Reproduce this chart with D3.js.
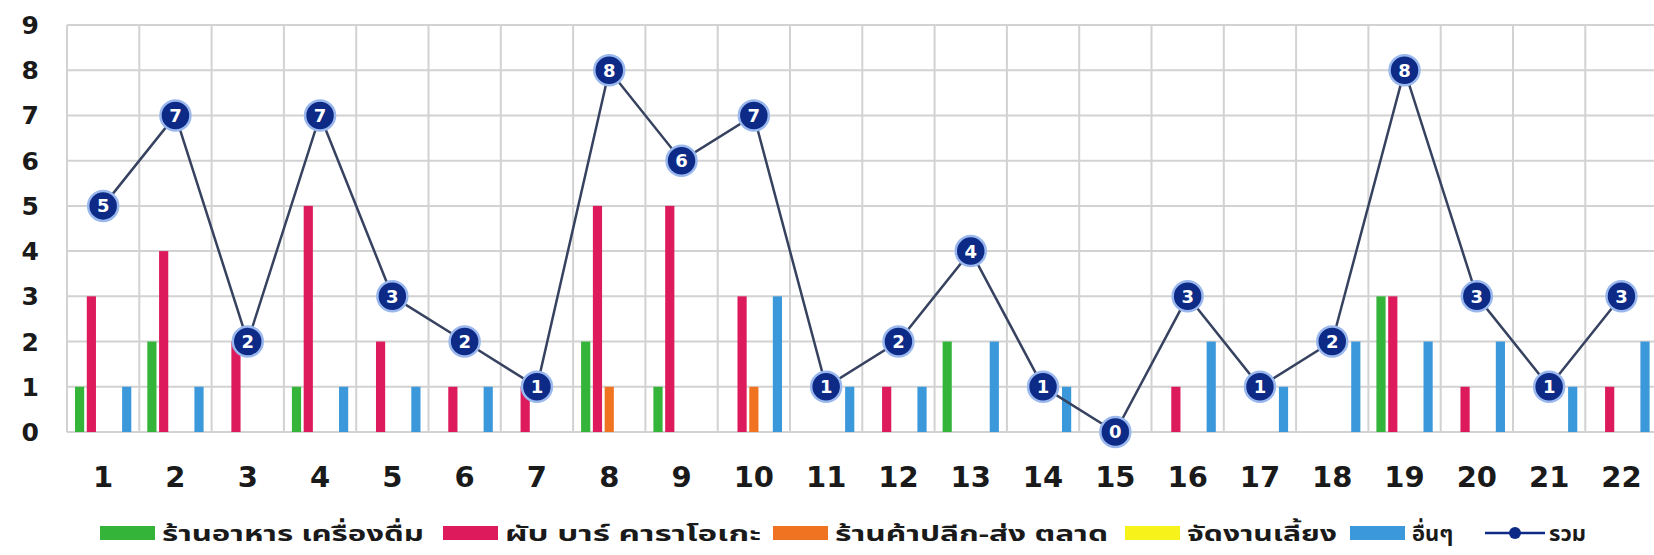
<!DOCTYPE html>
<html>
<head>
<meta charset="utf-8">
<script src="https://cdn.jsdelivr.net/npm/d3@7"></script>
<style>
  html, body { margin: 0; padding: 0; background: #fff; }
  svg { display: block; }
</style>
</head>
<body>
<div id="chart"></div>
<script>
// วันที่ 1-22
const days = d3.range(1, 23).map(String);
const seriesNames = ['ร้านอาหาร เครื่องดื่ม', 'ผับ บาร์ คาราโอเกะ', 'ร้านค้าปลีก-ส่ง ตลาด', 'จัดงานเลี้ยง', 'อื่นๆ'];
const seriesColors = ['#34b53a', '#dc1a5c', '#f07322', '#f7f21a', '#3b98da'];
const food    = [1, 2, 0, 1, 0, 0, 0, 2, 1, 0, 0, 0, 2, 0, 0, 0, 0, 0, 3, 0, 0, 0];
const pub     = [3, 4, 2, 5, 2, 1, 1, 5, 5, 3, 0, 1, 0, 0, 0, 1, 0, 0, 3, 1, 0, 1];
const retail  = [0, 0, 0, 0, 0, 0, 0, 1, 0, 1, 0, 0, 0, 0, 0, 0, 0, 0, 0, 0, 0, 0];
const party   = [0, 0, 0, 0, 0, 0, 0, 0, 0, 0, 0, 0, 0, 0, 0, 0, 0, 0, 0, 0, 0, 0];
const others  = [1, 1, 0, 1, 1, 1, 0, 0, 0, 3, 1, 1, 2, 1, 0, 2, 1, 2, 2, 2, 1, 2];
const total   = [5, 7, 2, 7, 3, 2, 1, 8, 6, 7, 1, 2, 4, 1, 0, 3, 1, 2, 8, 3, 1, 3];
const totalName = 'รวม';
const yTicks = [0, 1, 2, 3, 4, 5, 6, 7, 8, 9];

const width = 1654, height = 555;
const svg = d3.select('#chart').append('svg')
  .attr('width', width)
  .attr('height', height);

const seriesValues = [food, pub, retail, party, others];

// แกน x ยาวเกินขอบขวาเล็กน้อยเหมือนภาพต้นฉบับ
const x = d3.scaleBand()
  .domain(days)
  .range([67, 67 + 22 * 72.3])
  .padding(0);

const sub = d3.scaleBand()
  .domain(d3.range(seriesNames.length))
  .range([8, x.bandwidth() - 8])
  .paddingInner(0.22);

const y = d3.scaleLinear()
  .domain([0, 9])
  .range([432, 25]);

// เส้นกริด
const grid = svg.append('g');
grid.selectAll('.hgrid')
  .data(yTicks)
  .enter().append('line')
  .attr('x1', x.range()[0])
  .attr('x2', x.range()[1])
  .attr('y1', d => y(d))
  .attr('y2', d => y(d))
  .style('stroke', '#d2d2d2')
  .style('stroke-width', 2);
grid.selectAll('.vgrid')
  .data(d3.range(days.length + 1))
  .enter().append('line')
  .attr('x1', d => x.range()[0] + d * x.step())
  .attr('x2', d => x.range()[0] + d * x.step())
  .attr('y1', y(9))
  .attr('y2', y(0))
  .style('stroke', '#d2d2d2')
  .style('stroke-width', 2);

// แท่งข้อมูล
const barData = [];
seriesValues.forEach((vals, s) => {
  vals.forEach((v, i) => {
    if (v > 0) barData.push({ day: days[i], s: s, v: v });
  });
});
svg.append('g').selectAll('rect')
  .data(barData)
  .enter().append('rect')
  .attr('x', d => x(d.day) + sub(d.s))
  .attr('width', sub.bandwidth())
  .attr('y', d => y(d.v))
  .attr('height', d => y(0) - y(d.v))
  .style('fill', d => seriesColors[d.s]);

// เส้นรวม
const line = d3.line()
  .x((d, i) => x(days[i]) + x.bandwidth() / 2)
  .y(d => y(d));
svg.append('path')
  .datum(total)
  .attr('d', line)
  .style('fill', 'none')
  .style('stroke', '#36425f')
  .style('stroke-width', 2.5);

const marks = svg.append('g').selectAll('g')
  .data(total)
  .enter().append('g')
  .attr('transform', (d, i) => `translate(${x(days[i]) + x.bandwidth() / 2}, ${y(d)})`);
marks.append('circle')
  .attr('r', 15)
  .style('fill', '#0c2a86')
  .style('stroke', '#9ab8ee')
  .style('stroke-width', 2.5);
marks.append('text')
  .attr('dy', '0.36em')
  .style('text-anchor', 'middle')
  .style('fill', '#fff')
  .style('font-family', '"DejaVu Sans", sans-serif')
  .style('font-weight', 'bold')
  .style('font-size', '18px')
  .text(d => d);

// ป้ายแกน
svg.append('g').selectAll('text')
  .data(yTicks)
  .enter().append('text')
  .attr('x', 39)
  .attr('y', d => y(d))
  .attr('dy', '0.36em')
  .style('text-anchor', 'end')
  .style('font-family', '"DejaVu Sans", Verdana, sans-serif')
  .style('font-weight', 'bold')
  .style('font-size', '25px')
  .style('fill', '#1a1a1a')
  .text(d => d);

svg.append('g').selectAll('text')
  .data(days)
  .enter().append('text')
  .attr('x', d => x(d) + x.bandwidth() / 2)
  .attr('y', 477)
  .attr('dy', '0.36em')
  .style('text-anchor', 'middle')
  .style('font-family', '"DejaVu Sans", Verdana, sans-serif')
  .style('font-weight', 'bold')
  .style('font-size', '29px')
  .style('fill', '#1a1a1a')
  .text(d => d);

// คำอธิบายสัญลักษณ์
const legendY = 533;
const legendX = [100, 443, 773, 1125, 1350];
const legendTextW = [262, 256, 273, 150, null];
const legend = svg.append('g');
const items = legend.selectAll('g')
  .data(seriesNames)
  .enter().append('g')
  .attr('transform', (d, i) => `translate(${legendX[i]}, ${legendY})`);
items.append('rect')
  .attr('y', -7)
  .attr('width', 55)
  .attr('height', 14)
  .style('fill', (d, i) => seriesColors[i]);
items.append('text')
  .attr('x', 62)
  .attr('dy', '0.36em')
  .attr('textLength', (d, i) => legendTextW[i])
  .attr('lengthAdjust', 'spacingAndGlyphs')
  .style('font-family', '"Noto Sans Thai", Tahoma, "Noto Sans", sans-serif')
  .style('font-weight', 'bold')
  .style('font-size', '22px')
  .style('fill', '#1a1a1a')
  .text(d => d);

const lineItem = legend.append('g').attr('transform', `translate(1485, ${legendY})`);
lineItem.append('line')
  .attr('x1', 0).attr('x2', 60)
  .style('stroke', '#0c2a86')
  .style('stroke-width', 2.5);
lineItem.append('circle')
  .attr('cx', 30)
  .attr('r', 6)
  .style('fill', '#0c2a86');
lineItem.append('text')
  .attr('x', 64)
  .attr('dy', '0.36em')
  .style('font-family', '"Noto Sans Thai", Tahoma, "Noto Sans", sans-serif')
  .style('font-weight', 'bold')
  .style('font-size', '22px')
  .style('fill', '#1a1a1a')
  .text(totalName);
</script>
</body>
</html>
